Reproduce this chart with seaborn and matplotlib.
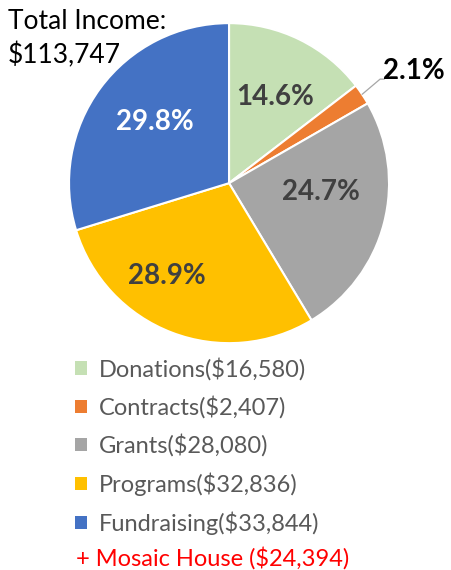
import numpy as np
import matplotlib
matplotlib.use("Agg")
import matplotlib.pyplot as plt
import seaborn as sns
from matplotlib.patches import Patch

# data
categories = ["Donations", "Contracts", "Grants", "Programs", "Fundraising"]
amounts = [16580, 2407, 28080, 32836, 33844]
colors = ["#C5E0B4", "#ED7D31", "#A5A5A5", "#FFC000", "#4472C4"]
label_colors = ["#404040", "#000000", "#404040", "#404040", "#FFFFFF"]
extra_note = "+ Mosaic House ($24,394)"

sns.set_theme(style="white")
plt.rcParams["font.family"] = ["Lato", "DejaVu Sans"]

total = sum(amounts)

fig = plt.figure(figsize=(4.52, 5.70), dpi=100)
ax = fig.add_axes([0.1527, 0.398, 0.708, 0.5614])
wedges, _ = ax.pie(amounts, colors=colors, startangle=90, counterclock=False,
                   wedgeprops=dict(edgecolor="white", linewidth=1.5))
ax.set_xlim(-1, 1)
ax.set_ylim(-1, 1)
ax.set_aspect("equal")

# label placement (radius, angle tweak in degrees)
dist = [0.61, None, 0.58, 0.70, 0.60]
tweak = [-2, 0, 9, -13, -3]
for i, w in enumerate(wedges):
    pct = f"{amounts[i] / total * 100:.1f}%"
    mid = np.deg2rad((w.theta1 + w.theta2) / 2 + tweak[i])
    if dist[i] is None:
        # small slice: label outside with a leader line
        ex, ey = np.cos(mid), np.sin(mid)
        ax.plot([ex, 0.944, 0.97], [ey, 0.65, 0.65], color="#A6A6A6", lw=0.9,
                clip_on=False)
        ax.text(0.965, 0.70, pct, fontsize=20, fontweight="bold",
                color=label_colors[i], ha="left", va="center")
        continue
    ax.text(dist[i] * np.cos(mid), dist[i] * np.sin(mid), pct, fontsize=20,
            fontweight="bold", color=label_colors[i], ha="center", va="center")

fig.text(8 / 452, 1 - 9 / 570, "Total Income:\n$113,747", fontsize=19,
         color="#000000", ha="left", va="top", linespacing=1.4)

handles = [Patch(facecolor=c, edgecolor="none") for c in colors]
labels = [f"{c}(${a:,})" for c, a in zip(categories, amounts)]
leg = fig.legend(handles, labels, loc="upper left",
                 bbox_to_anchor=(66 / 452, 1 - 348 / 570), frameon=False,
                 fontsize=17, handlelength=0.48, handleheight=0.48,
                 handletextpad=0.5, labelspacing=0.65, borderaxespad=0)
for t in leg.get_texts():
    t.set_color("#595959")

fig.text(76 / 452, 1 - 558 / 570, extra_note, fontsize=17, color="#FF0000",
         ha="left", va="center")

fig.savefig("out.png", dpi=100)
